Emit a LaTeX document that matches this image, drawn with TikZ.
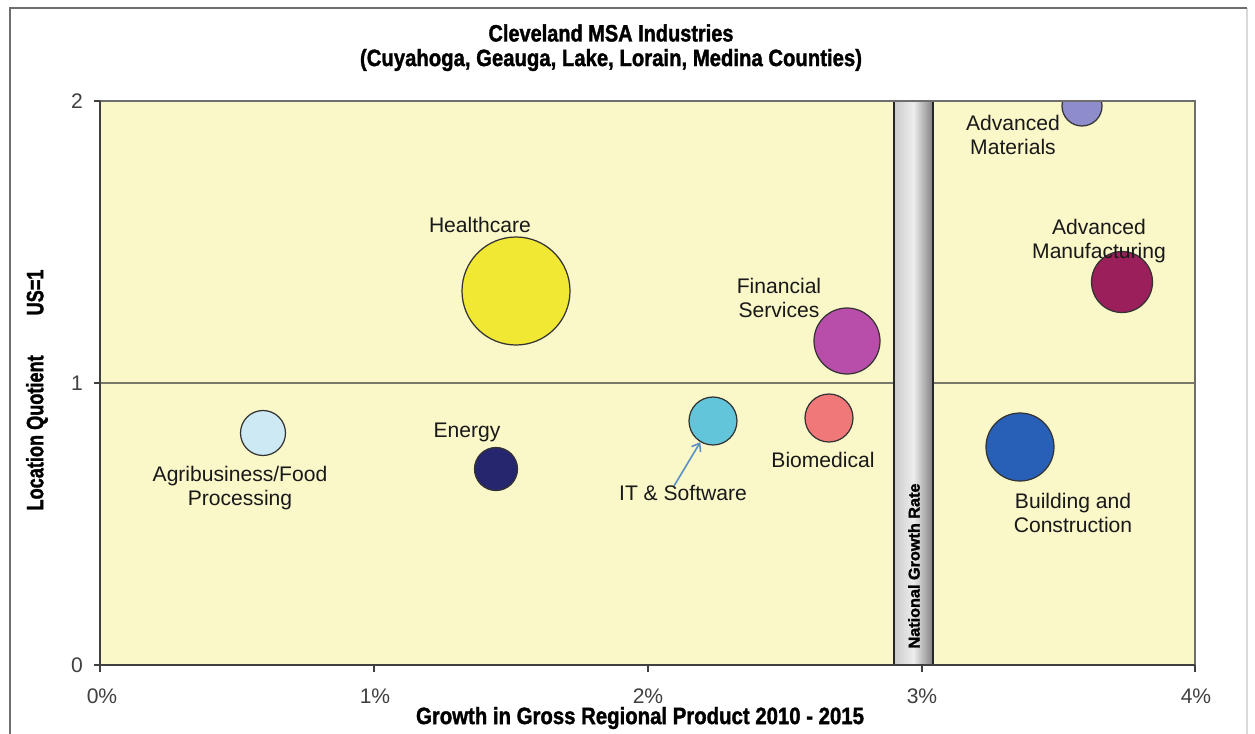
\documentclass[tikz,border=0pt]{standalone}
\usepackage{fontspec}
\setmainfont{Liberation Sans}
\newfontfamily\heavyfont{Liberation Sans}[BoldFeatures={FakeBold=1.6}]
\usetikzlibrary{arrows.meta}
\definecolor{plotbg}{RGB}{250,247,201}
\definecolor{cAgri}{RGB}{205,233,243}
\definecolor{cEnergy}{RGB}{38,38,110}
\definecolor{cHealth}{RGB}{240,232,50}
\definecolor{cIT}{RGB}{99,197,217}
\definecolor{cBio}{RGB}{240,120,120}
\definecolor{cFin}{RGB}{184,77,170}
\definecolor{cAMat}{RGB}{142,140,203}
\definecolor{cAMan}{RGB}{154,31,90}
\definecolor{cBuild}{RGB}{40,96,184}
\definecolor{frameg}{RGB}{110,110,110}
\definecolor{midg}{RGB}{120,120,105}
\definecolor{arrowb}{RGB}{91,143,200}
\newcommand\fitw[2]{\resizebox{#1}{1.12\height}{#2}}
\tikzset{
  bubble/.style={circle, draw=black!80, line width=0.7pt, inner sep=0pt},
  lab/.style={align=center, inner sep=0pt, font=\fontsize{12}{14}\selectfont, text=black!90},
  ticklab/.style={inner sep=0pt, font=\fontsize{12}{14}\selectfont, text=black!75},
  btitle/.style={inner sep=0pt, font=\heavyfont\bfseries\fontsize{12}{14}\selectfont},
}
\begin{document}
\begin{tikzpicture}[x=0.02cm,y=-0.02cm]
\useasboundingbox (0,0) rectangle (1255,734);
\fill[white] (0,0) rectangle (1255,734);
% chart frame
\draw[black!15, line width=1.5pt] (1247,8) -- (1247,734);
\draw[frameg, line width=1.6pt] (10,734) -- (10,8) -- (1247,8);
% plot area
\fill[plotbg] (100,101) rectangle (1195,665);
\draw[midg, line width=1.3pt] (100,383) -- (1195,383);
% bubbles
\begin{scope}
\clip (100,101) rectangle (1195,665);
\node[bubble, fill=cAMat, minimum size=40*0.02cm] (amat) at (1082,106) {};
\end{scope}
\node[bubble, fill=cAgri, minimum size=45*0.02cm] (agri) at (263,433) {};
\node[bubble, fill=cEnergy, minimum size=43*0.02cm] (en) at (496,469) {};
\node[bubble, fill=cHealth, minimum size=108*0.02cm] (hc) at (516,291) {};
\node[bubble, fill=cIT, minimum size=48*0.02cm] (it) at (713,421) {};
\node[bubble, fill=cBio, minimum size=48*0.02cm] (bio) at (829,418) {};
\node[bubble, fill=cFin, minimum size=66*0.02cm] (fin) at (847,341) {};
\node[bubble, fill=cAMan, minimum size=61*0.02cm] (aman) at (1122,282) {};
\node[bubble, fill=cBuild, minimum size=68*0.02cm] (build) at (1020,447) {};
% national growth rate bar
\shade[left color=black!20, right color=black!50, middle color=black!7] (894,101) rectangle (933,665);
\draw[black!85, line width=1pt] (894,665) -- (894,101) -- (933,101) -- (933,665);
\node[btitle, font=\heavyfont\bfseries\fontsize{8}{9}\selectfont, rotate=90] (ngr) at (914,566) {\fitw{3.3cm}{National Growth Rate}};
% plot borders and axes
\draw[frameg, line width=1pt] (100,101) -- (1195,101) -- (1195,665);
\draw[black!75, line width=1pt] (100,101) -- (100,665) -- (1195,665);
\foreach \yy in {101,383,665} \draw[black!75, line width=0.8pt] (94,\yy) -- (100,\yy);
\foreach \xx in {100,374,648,922,1195} \draw[black!75, line width=0.8pt] (\xx,665) -- (\xx,672);
% tick labels
\node[ticklab] (y2) at (77,101) {2};
\node[ticklab] (y1) at (77,383) {1};
\node[ticklab] (y0) at (77,665) {0};
\node[ticklab] (x0) at (102,696) {0\%};
\node[ticklab] (x1) at (375,696) {1\%};
\node[ticklab] (x2) at (648,696) {2\%};
\node[ticklab] (x3) at (922,696) {3\%};
\node[ticklab] (x4) at (1196,696) {4\%};
% labels
\node[lab] (hclab) at (480,225) {Healthcare};
\node[lab] (finlab) at (779,298) {Financial\\Services};
\node[lab] (amatlab) at (1013,135) {Advanced\\Materials};
\node[lab] (amanlab) at (1099,241) {Advanced\\Manufacturing};
\node[lab] (agrilab) at (240,488) {Agribusiness/Food\\Processing};
\node[lab] (enlab) at (467,432) {Energy};
\node[lab] (itlab) at (683,493) {IT \& Software};
\node[lab] (biolab) at (823,460) {Biomedical};
\node[lab] (buildlab) at (1073,513) {Building and\\Construction};
\coordinate (itfrom) at (674,486);
\draw[arrowb, line width=0.9pt, -{Straight Barb[length=4pt,width=6pt]}] (itfrom) -- (it);
% titles
\node[btitle] (title) at (611,33) {\fitw{4.9cm}{Cleveland MSA Industries}};
\node[btitle] (subtitle) at (611,60) {\fitw{10.04cm}{(Cuyahoga, Geauga, Lake, Lorain, Medina Counties)}};
\node[btitle] (xtitle) at (640,718) {\fitw{8.96cm}{Growth in Gross Regional Product 2010 - 2015}};
\node[btitle, rotate=90] (ytitle) at (37,390) {\fitw{4.82cm}{Location Quotient\hspace{2.2em}US=1}};
\end{tikzpicture}
\end{document}
